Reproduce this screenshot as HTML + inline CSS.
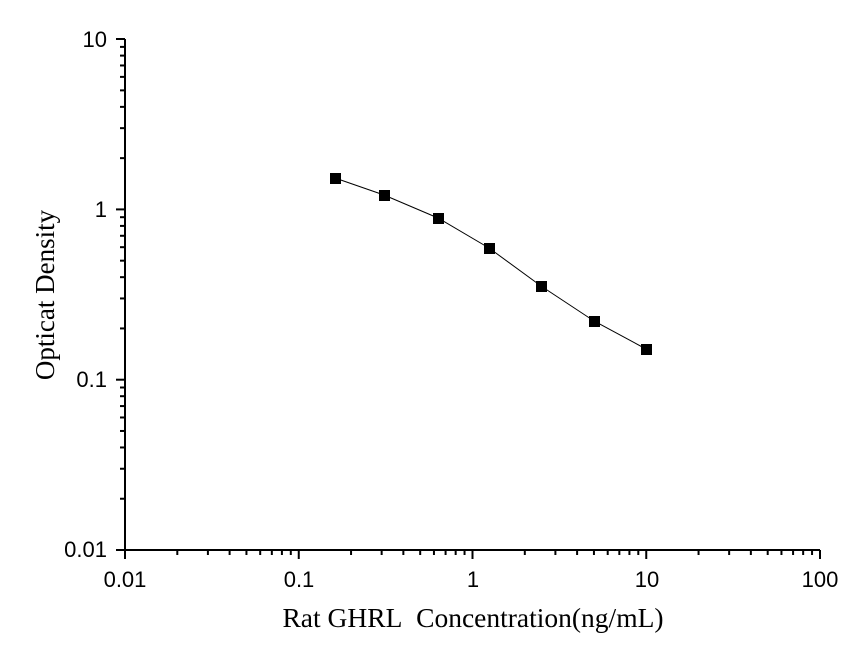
<!DOCTYPE html><html><head><style>body{margin:0;background:#fff}svg{display:block}text{font-family:"Liberation Sans",Arial,sans-serif}</style></head><body>
<svg id="s" width="867" height="649" xmlns="http://www.w3.org/2000/svg">
<g id="g" stroke="#000" stroke-width="2"></g>
<polyline points="335,178 384,195 438,218 489,248 541,286 594,321 646,349" fill="none" stroke="#000" stroke-width="1"/>
<g fill="#000">
<rect x="330" y="173" width="11" height="11"/><rect x="379" y="190" width="11" height="11"/><rect x="433" y="213" width="11" height="11"/><rect x="484" y="243" width="11" height="11"/><rect x="536" y="281" width="11" height="11"/><rect x="589" y="316" width="11" height="11"/><rect x="641" y="344" width="11" height="11"/>
</g>
<g font-size="22" text-anchor="middle" fill="#000">
<text x="125" y="587">0.01</text><text x="299" y="587">0.1</text><text x="473" y="587">1</text><text x="647" y="587">10</text><text x="820" y="587">100</text>
</g>
<g font-size="22" text-anchor="end" fill="#000">
<text x="107" y="47">10</text><text x="107" y="217">1</text><text x="107" y="387">0.1</text><text x="107" y="557">0.01</text>
</g>
<text x="473" y="627" font-size="27.5" text-anchor="middle" style="font-family:'Liberation Serif',serif">Rat GHRL&#160; Concentration(ng/mL)</text>
<text transform="translate(54,295) rotate(-90)" font-size="27" text-anchor="middle" style="font-family:'Liberation Serif',serif">Opticat Density</text>
</svg>
<script>
var g=document.getElementById('g'),h='';
function L(a,b,c,d){h+='<line x1="'+a+'" y1="'+b+'" x2="'+c+'" y2="'+d+'"/>';}
L(125,39,125,551);L(124,550,820,550);
for(var d=0;d<4;d++){var x0=125+d*173.75;L(x0,550,x0,559);
for(var k=2;k<10;k++){var x=x0+Math.log10(k)*173.75;L(x,550,x,555);}}
L(820,550,820,559);
for(var d=0;d<3;d++){var y0=550-d*170.3;L(116,y0,125,y0);
for(var k=2;k<10;k++){var y=y0-Math.log10(k)*170.3;L(120,y,125,y);}}
L(116,39,125,39);
g.innerHTML=h;
</script>
</body></html>
